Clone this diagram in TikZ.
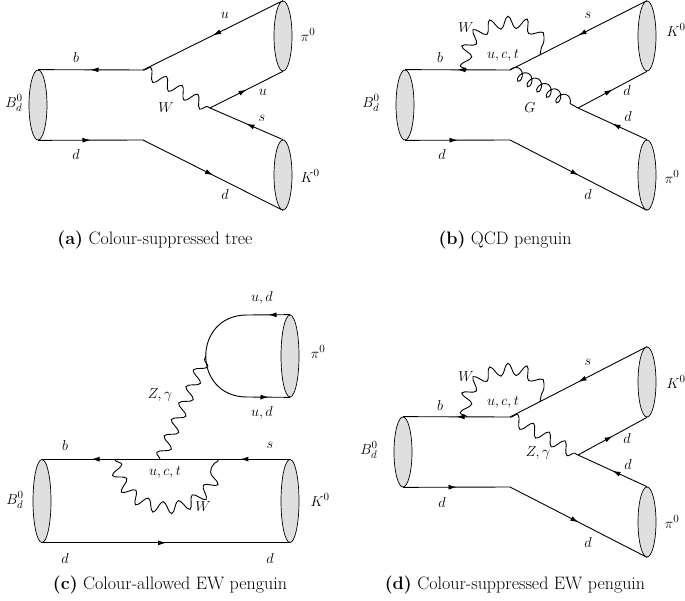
\documentclass[tikz,border=0pt]{standalone}
\usetikzlibrary{decorations.pathmorphing,decorations.markings,shapes.geometric,arrows.meta}
\begin{document}
\begin{tikzpicture}[x=1pt,y=-1pt,line width=0.9pt,
  meson/.style={draw,ellipse,fill=gray!25,minimum width=18pt,minimum height=#1,inner sep=0pt,line width=0.7pt},
  fer/.style={postaction={decorate},decoration={markings,mark=at position #1 with {\arrow{Latex[length=8pt,width=5pt]}}}},
  fer/.default=0.5,
  boson/.style={decorate,decoration={snake,amplitude=6pt,segment length=18pt}},
  bloop/.style={decorate,decoration={snake,amplitude=6pt,segment length=17pt}},
  gluon/.style={decorate,decoration={coil,amplitude=6pt,segment length=11pt,aspect=0.7}},
  lab/.style={font=\fontsize{15}{17}\selectfont,inner sep=1pt},
  captxt/.style={font=\fontsize{18}{21}\selectfont}]
\useasboundingbox (0,0) rectangle (685,601);
% ---------- (a)
\node[meson=70pt] (aB) at (38,105) {};
\node[meson=70pt] (aP) at (283,36) {};
\node[meson=70pt] (aK) at (283,175) {};
\coordinate (a1) at (143,70);
\coordinate (a2) at (210,108);
\coordinate (a3) at (143,140);
\draw[fer] (a1) -- (aB.north);
\draw[fer] (aB.south) -- (a3);
\draw[fer] (aP.north) -- (a1);
\draw[boson] (a1) -- (a2);
\draw[fer] (a2) -- (aP.south);
\draw[fer] (aK.north) -- (a2);
\draw[fer] (a3) -- (aK.south);
\node[lab] (la1) at (76,58) {$b$};
\node[lab] (la2) at (76,155) {$d$};
\node[lab] (la3) at (225,15) {$u$};
\node[lab] (la4) at (166,108) {$W$};
\node[lab] (la5) at (263,92) {$u$};
\node[lab] (la6) at (262,118) {$s$};
\node[lab] (la7) at (225,195) {$d$};
\node[lab] (la8) at (14,103) {$B_d^0$};
\node[lab] (la9) at (308,35) {$\pi^0$};
\node[lab] (la10) at (310,176) {$K^0$};
\node[captxt] (capa) at (155,240) {\textbf{(a)} Colour-suppressed tree};
% ---------- (b)
\node[meson=70pt] (bB) at (405,105) {};
\node[meson=70pt] (bK) at (647,36) {};
\node[meson=70pt] (bP) at (647,175) {};
\coordinate (b1) at (510,70);
\coordinate (b2) at (578,108);
\coordinate (b3) at (510,140);
\coordinate (bw1) at (467,70);
\coordinate (bw2) at (540,55);
\draw[fer] (b1) -- (bB.north);
\draw[fer] (bB.south) -- (b3);
\draw[fer] (bK.north) -- (b1);
\draw[bloop] (bw1) .. controls (458,20) and (548,10) .. (bw2);
\draw[gluon] (b1) -- (b2);
\draw[fer] (b2) -- (bK.south);
\draw[fer] (bP.north) -- (b2);
\draw[fer] (b3) -- (bP.south);
\node[lab] (lb1) at (440,58) {$b$};
\node[lab] (lb2) at (442,155) {$d$};
\node[lab] (lb3) at (588,15) {$s$};
\node[lab] (lb4) at (466,28) {$W$};
\node[lab] (lb5) at (503,55) {$u,c,t$};
\node[lab] (lb6) at (530,108) {$G$};
\node[lab] (lb7) at (627,91) {$d$};
\node[lab] (lb8) at (628,117) {$d$};
\node[lab] (lb9) at (588,195) {$d$};
\node[lab] (lb10) at (371,103) {$B_d^0$};
\node[lab] (lb11) at (676,30) {$K^0$};
\node[lab] (lb12) at (672,177) {$\pi^0$};
\node[captxt] (capb) at (505,240) {\textbf{(b)} QCD penguin};
% ---------- (c)
\node[meson=83pt] (cB) at (42,501) {};
\node[meson=83pt] (cK) at (290,501) {};
\node[meson=82pt] (cP) at (290,356) {};
\coordinate (c1) at (160,460);
\coordinate (c2) at (206,356);
\coordinate (cw1) at (115,460);
\coordinate (cw2) at (218,460);
\coordinate (ctop) at (247,315);
\coordinate (cbot) at (247,397);
\draw[fer=0.2] (cK.north) -- (cB.north);
\draw[fer=0.8] (cK.north) -- (cB.north);
\draw[fer] (cB.south) -- (cK.south);
\draw[bloop] (cw1) .. controls (125,518) and (208,518) .. (cw2);
\draw[boson] (c1) -- (c2);
\draw[fer] (cP.north) -- (ctop);
\draw (ctop) .. controls (192,315) and (192,397) .. (cbot);
\draw[fer] (cbot) -- (cP.south);
\node[lab] (lc1) at (65,445) {$b$};
\node[lab] (lc2) at (270,445) {$s$};
\node[lab] (lc3) at (65,558) {$d$};
\node[lab] (lc4) at (270,558) {$d$};
\node[lab] (lc5) at (165,472) {$u,c,t$};
\node[lab] (lc6) at (203,507) {$W$};
\node[lab] (lc7) at (160,395) {$Z,\gamma$};
\node[lab] (lc8) at (262,298) {$u,d$};
\node[lab] (lc9) at (262,413) {$u,d$};
\node[lab] (lc10) at (15,500) {$B_d^0$};
\node[lab] (lc11) at (318,352) {$\pi^0$};
\node[lab] (lc12) at (320,500) {$K^0$};
\node[captxt] (capc) at (170,585) {\textbf{(c)} Colour-allowed EW penguin};
% ---------- (d)
\node[meson=70pt] (dB) at (403,452) {};
\node[meson=70pt] (dK) at (647,382) {};
\node[meson=70pt] (dP) at (647,522) {};
\coordinate (d1) at (510,417);
\coordinate (d2) at (578,455);
\coordinate (d3) at (510,487);
\coordinate (dw1) at (467,417);
\coordinate (dw2) at (540,402);
\draw[fer] (d1) -- (dB.north);
\draw[fer] (dB.south) -- (d3);
\draw[fer] (dK.north) -- (d1);
\draw[bloop] (dw1) .. controls (458,367) and (548,357) .. (dw2);
\draw[boson] (d1) -- (d2);
\draw[fer] (d2) -- (dK.south);
\draw[fer] (dP.north) -- (d2);
\draw[fer] (d3) -- (dP.south);
\node[lab] (ld1) at (440,405) {$b$};
\node[lab] (ld2) at (442,502) {$d$};
\node[lab] (ld3) at (588,362) {$s$};
\node[lab] (ld4) at (466,377) {$W$};
\node[lab] (ld5) at (503,402) {$u,c,t$};
\node[lab] (ld6) at (538,453) {$Z,\gamma$};
\node[lab] (ld7) at (627,438) {$d$};
\node[lab] (ld8) at (628,464) {$d$};
\node[lab] (ld9) at (588,542) {$d$};
\node[lab] (ld10) at (369,450) {$B_d^0$};
\node[lab] (ld11) at (676,382) {$K^0$};
\node[lab] (ld12) at (672,522) {$\pi^0$};
\node[captxt] (capd) at (515,585) {\textbf{(d)} Colour-suppressed EW penguin};
\end{tikzpicture}
\end{document}
